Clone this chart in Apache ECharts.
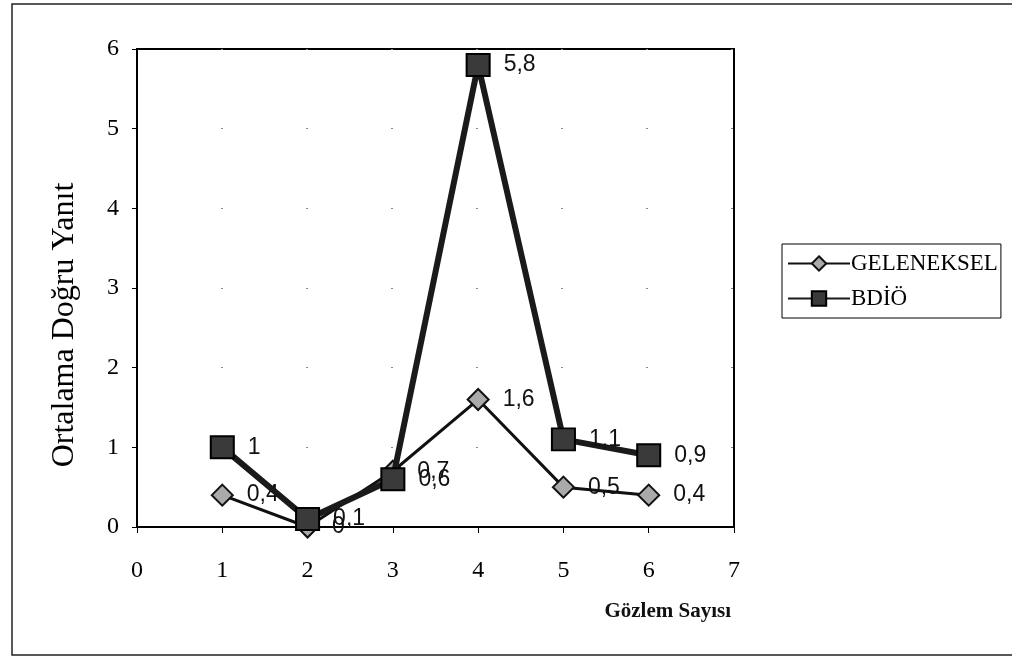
<!DOCTYPE html>
<html>
<head>
<meta charset="utf-8">
<script src="https://cdn.jsdelivr.net/npm/echarts@6/dist/echarts.min.js"></script>
<style>html,body{margin:0;padding:0;background:#fff;}#c{width:1012px;height:656px;}</style>
</head>
<body>
<div id="c"></div>
<script>
var xValues = [1, 2, 3, 4, 5, 6];
var geleneksel = [0.4, 0, 0.7, 1.6, 0.5, 0.4];
var bdio = [1, 0.1, 0.6, 5.8, 1.1, 0.9];
var seriesNames = ['GELENEKSEL', 'BDİÖ'];
var xTitle = 'Gözlem Sayısı';
var yTitle = 'Ortalama Doğru Yanıt';

function pairs(xs, ys) { return xs.map(function (x, i) { return [x, ys[i]]; }); }
function fmt(p) { return String(p.value[1]).replace('.', ','); }

var chart = echarts.init(document.getElementById('c'), null, {renderer: 'canvas'});
chart.setOption({
  animation: false,
  backgroundColor: '#fff',
  grid: {left: 137, right: 278, top: 49, bottom: 129, show: true, borderColor: '#000', borderWidth: 2, backgroundColor: 'transparent'},
  xAxis: {
    type: 'value', min: 0, max: 7, interval: 1,
    name: xTitle, nameLocation: 'end', nameGap: 0,
    nameTextStyle: {fontFamily: 'Liberation Serif', fontSize: 21, fontWeight: 'bold', color: '#111', align: 'right', verticalAlign: 'top', padding: [74, 3, 0, 0]},
    axisLine: {onZero: false, lineStyle: {color: '#000', width: 2}},
    axisTick: {show: true, inside: false, length: 6, lineStyle: {color: '#000', width: 1}},
    axisLabel: {fontFamily: 'Liberation Serif', fontSize: 24, color: '#000', margin: 32},
    splitLine: {show: false}
  },
  yAxis: {
    type: 'value', min: 0, max: 6, interval: 1,
    name: yTitle, nameLocation: 'middle', nameGap: 56,
    nameTextStyle: {fontFamily: 'Liberation Serif', fontSize: 32, color: '#000', padding: [0, 74, 0, 0]},
    axisLine: {lineStyle: {color: '#000', width: 2}},
    axisTick: {show: true, length: 5, lineStyle: {color: '#000', width: 1}},
    axisLabel: {fontFamily: 'Liberation Serif', fontSize: 24, color: '#000', margin: 18},
    splitLine: {show: true, lineStyle: {color: '#888', width: 1, type: [2, 83], dashOffset: -84}}
  },
  legend: {
    orient: 'vertical', left: 782, top: 244,
    padding: [8, 3, 8, 5], itemGap: 12,
    itemWidth: 62, itemHeight: 18,
    borderColor: '#000', borderWidth: 1,
    textStyle: {fontFamily: 'Liberation Serif', fontSize: 23, color: '#000', padding: [0, 0, 0, -4]},
    data: seriesNames
  },
  series: [
    {
      name: seriesNames[0], type: 'line', data: pairs(xValues, geleneksel),
      symbol: 'diamond', symbolSize: [21, 21],
      lineStyle: {color: '#111', width: 3},
      itemStyle: {color: '#aaa', borderColor: '#111', borderWidth: 2},
      label: {show: true, position: 'right', distance: 13, formatter: fmt, fontFamily: 'Liberation Sans', fontSize: 23, color: '#111'},
      z: 2
    },
    {
      name: seriesNames[1], type: 'line', data: pairs(xValues, bdio),
      symbol: 'rect', symbolSize: [23, 22],
      lineStyle: {color: '#1a1a1a', width: 6},
      itemStyle: {color: '#3a3a3a', borderColor: '#000', borderWidth: 2},
      label: {show: true, position: 'right', distance: 13, formatter: fmt, fontFamily: 'Liberation Sans', fontSize: 23, color: '#111'},
      z: 3
    }
  ],
  graphic: [
    {type: 'polyline', shape: {points: [[1012, 4], [12, 4], [12, 655], [1012, 655]]}, style: {stroke: '#222', lineWidth: 1.5, fill: null}, silent: true}
  ]
});
</script>
</body>
</html>
